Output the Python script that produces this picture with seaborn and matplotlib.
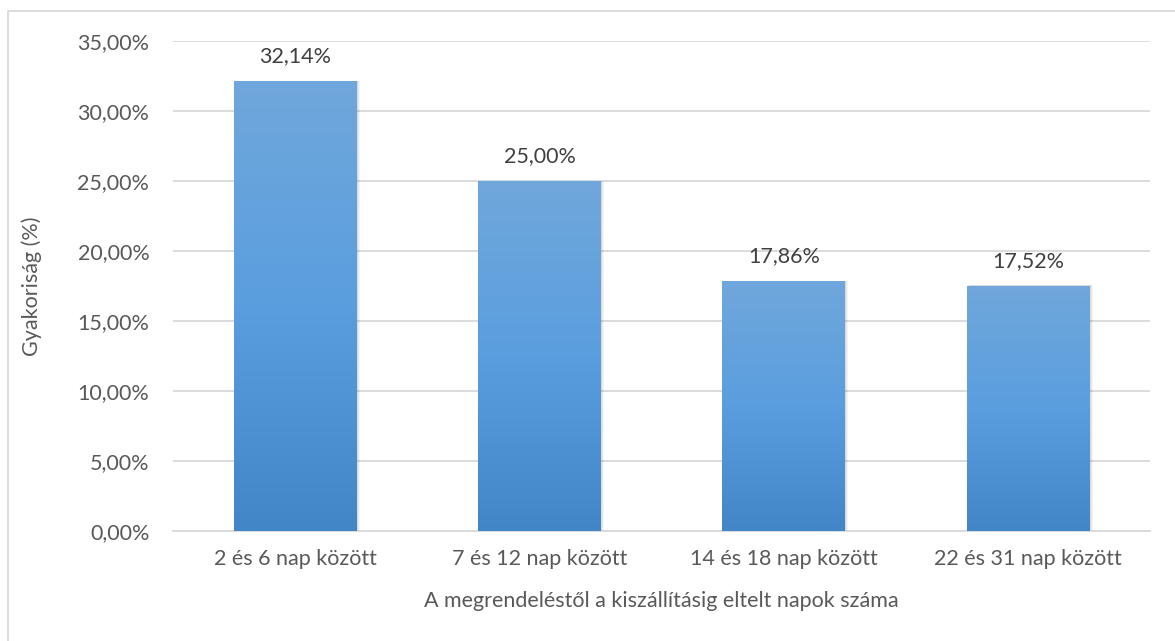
import numpy as np
import pandas as pd
import matplotlib
matplotlib.use("Agg")
import matplotlib.pyplot as plt
import seaborn as sns
from matplotlib.lines import Line2D
from matplotlib.colors import LinearSegmentedColormap

categories = ["2 és 6 nap között", "7 és 12 nap között", "14 és 18 nap között", "22 és 31 nap között"]
values = [32.14, 25.00, 17.86, 17.52]
value_labels = ["32,14%", "25,00%", "17,86%", "17,52%"]
y_ticks = [0, 5, 10, 15, 20, 25, 30, 35]
y_tick_labels = ["0,00%", "5,00%", "10,00%", "15,00%", "20,00%", "25,00%", "30,00%", "35,00%"]
x_title = "A megrendeléstől a kiszállításig eltelt napok száma"
y_title = "Gyakoriság (%)"

sns.set_theme(style="white")
plt.rcParams['font.family'] = ['Lato', 'DejaVu Sans']
text_color = "#595959"
fs = 15.5

df = pd.DataFrame({"cat": categories, "val": values})

fig = plt.figure(figsize=(11.75, 6.41), dpi=100)
ax = fig.add_axes([0.1472, 0.1716, 0.8319, 0.7644])

sns.barplot(data=df, x="cat", y="val", ax=ax, color="#5B9BD5", width=0.503,
            saturation=1, edgecolor="none", zorder=3)

ax.set_ylim(0, 35)
ax.set_xlim(-0.5, len(categories) - 0.5)
ax.set_yticks(y_ticks)
ax.set_yticklabels(y_tick_labels)
ax.grid(axis="y", color="#D9D9D9", linewidth=1.3, zorder=0)
ax.grid(axis="x", visible=False)
for s in ["top", "right", "left"]:
    ax.spines[s].set_visible(False)
ax.spines["bottom"].set_color("#D9D9D9")
ax.spines["bottom"].set_linewidth(1.3)
ax.tick_params(axis="both", length=0, labelsize=fs, colors=text_color)
ax.tick_params(axis="x", pad=13)
ax.tick_params(axis="y", pad=17)

# gradient fill and soft shadow
cmap = LinearSegmentedColormap.from_list("g", ["#4286C8", "#5A9EDF", "#70A7DB"])
grad = np.linspace(0, 1, 256).reshape(-1, 1)
for patch, lab in zip(ax.patches, value_labels):
    x0, y0 = patch.get_x(), patch.get_y()
    w, h = patch.get_width(), patch.get_height()
    for k, a in enumerate([0.06, 0.05, 0.04]):
        sh = plt.Rectangle((x0 + 0.004 * (k + 1), y0), w, h + 0.02, facecolor="black",
                           alpha=a, edgecolor="none", zorder=2)
        ax.add_patch(sh)
    im = ax.imshow(grad, cmap=cmap, aspect="auto", extent=(x0, x0 + w, y0, y0 + h),
                   origin="lower", zorder=4, interpolation="bicubic")
    im.set_clip_path(patch)
    ax.text(x0 + w / 2, y0 + h + 1.05, lab, ha="center", va="bottom",
            fontsize=fs, color="#404040", zorder=5)

ax.set_xlim(-0.5, len(categories) - 0.5)
ax.set_ylim(0, 35)
ax.set_xlabel(x_title, fontsize=fs, color=text_color, labelpad=16)
ax.set_ylabel(y_title, fontsize=fs, color=text_color)
ax.yaxis.set_label_coords((42 - 173) / 977.5, 0.5)

# outer border (left and top)
fig.add_artist(Line2D([8 / 1175, 8 / 1175, 1.0], [0.0, 1 - 11 / 641, 1 - 11 / 641],
                      color="#D9D9D9", linewidth=1.3, transform=fig.transFigure))

fig.savefig("out.png", dpi=100, facecolor="white")
